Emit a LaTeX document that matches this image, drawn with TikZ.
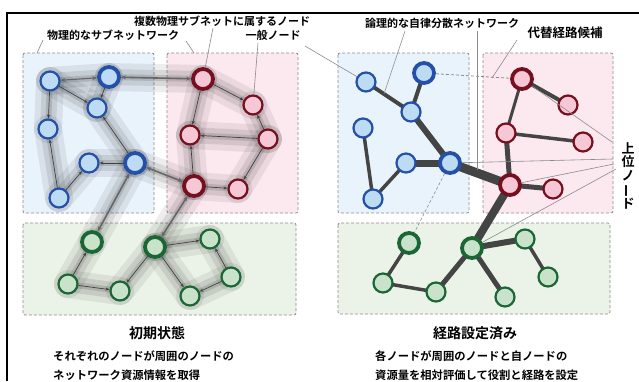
\documentclass[tikz,border=0pt]{standalone}
\usepackage{fontspec}
\setmainfont{Noto Sans CJK JP}[BoldFont={Noto Sans CJK JP Bold}]
\usetikzlibrary{arrows.meta,calc}
\pgfdeclarelayer{boxes}\pgfdeclarelayer{bg}
\pgfsetlayers{boxes,bg,main}
\definecolor{bfill}{HTML}{BDDCF4}
\definecolor{bline}{HTML}{2550A8}
\definecolor{rfill}{HTML}{F6C7D4}
\definecolor{rline}{HTML}{761020}
\definecolor{gfill}{HTML}{C9E3CA}
\definecolor{gline}{HTML}{1A6635}
\definecolor{bbox}{HTML}{E9F3FC}
\definecolor{rbox}{HTML}{FCE9EF}
\definecolor{gbox}{HTML}{EBF3E8}
\definecolor{edgec}{HTML}{444444}
\definecolor{callout}{HTML}{8A8A8A}
\begin{document}
\begin{tikzpicture}[x=1pt,y=-1pt,
 nd/.style={circle, inner sep=0pt, minimum size=19pt, line width=2.2pt},
 thk/.style={minimum size=20pt, line width=3.8pt},
 bn/.style={nd, fill=bfill, draw=bline},
 rn/.style={nd, fill=rfill, draw=rline},
 gn/.style={nd, fill=gfill, draw=gline},
 subnet/.style={draw=black!45, dash pattern=on 3pt off 2pt, line width=0.8pt, rounded corners=2pt},
 arr/.style={draw=black!75, line width=0.7pt, -{Stealth[length=4pt,width=3pt]}},
 dbl/.style={draw=black!60, line width=1.6pt, {Stealth[length=5pt,width=4pt]}-{Stealth[length=5pt,width=4pt]}},
 hA/.style={line width=28pt, draw=black, opacity=0.07, line cap=round},
 hB/.style={line width=16pt, draw=black, opacity=0.09, line cap=round},
 hC/.style={line width=6pt, draw=black, opacity=0.12, line cap=round},
 lk/.style={draw=edgec, line cap=round},
 co/.style={draw=callout, line width=0.6pt},
 lab/.style={font=\bfseries\fontsize{11}{13}\selectfont, inner sep=0pt},
 ttl/.style={font=\bfseries\fontsize{14}{16}\selectfont, inner sep=0pt},
 desc/.style={font=\bfseries\fontsize{11.3}{13}\selectfont, inner sep=0pt, anchor=west},
]
\useasboundingbox (0,0) rectangle (639,381);
% frame
\draw[line width=2.6pt] (7,381) -- (7,13) -- (639,13);

% ---------- left panel nodes ----------
\node[bn] (B1) at (50,81) {};
\node[bn,thk] (B2) at (109,77) {};
\node[bn] (B3) at (97,108) {};
\node[bn] (B4) at (48,129) {};
\node[bn] (B5) at (89,163) {};
\node[bn,thk] (B6) at (135,163) {};
\node[bn] (B7) at (59,198) {};
\node[rn,thk] (R1) at (203,79) {};
\node[rn] (R2) at (253,105) {};
\node[rn] (R3) at (190,135) {};
\node[rn] (R4) at (268,139) {};
\node[rn,thk] (R5) at (194,186) {};
\node[rn] (R6) at (238,189) {};
\node[gn,thk] (G1) at (92,242) {};
\node[gn,thk] (G2) at (155,247) {};
\node[gn] (G3) at (210,239) {};
\node[gn] (G4) at (68,284) {};
\node[gn] (G5) at (120,291) {};
\node[gn] (G6) at (231,277) {};
\node[gn] (G7) at (190,296) {};

% ---------- right panel nodes ----------
\node[bn] (b1) at (366,82) {};
\node[bn,thk] (b2) at (424,73) {};
\node[bn] (b3) at (411,112) {};
\node[bn] (b4) at (363,128) {};
\node[bn] (b5) at (406,163) {};
\node[bn,thk] (b6) at (450,163) {};
\node[bn] (b7) at (373,199) {};
\node[rn,thk] (r1) at (522,79) {};
\node[rn] (r2) at (568,105) {};
\node[rn] (r3) at (506,133) {};
\node[rn] (r4) at (583,142) {};
\node[rn,thk] (r5) at (510,185) {};
\node[rn] (r6) at (553,189) {};
\node[gn,thk] (g1) at (409,243) {};
\node[gn,thk] (g2) at (472,248) {};
\node[gn] (g3) at (525,239) {};
\node[gn] (g4) at (383,283) {};
\node[gn] (g5) at (436,292) {};
\node[gn] (g6) at (548,277) {};
\node[gn] (g7) at (505,297) {};

% ---------- subnet boxes ----------
\begin{pgfonlayer}{boxes}
\draw[subnet, fill=bbox] (23,53) rectangle (154,213);
\draw[subnet, fill=rbox] (167,53) rectangle (298,213);
\draw[subnet, fill=gbox] (23,223) rectangle (296,315);
\draw[subnet, fill=bbox] (338,53) rectangle (469,213);
\draw[subnet, fill=rbox] (483,53) rectangle (613,213);
\draw[subnet, fill=gbox] (338,223) rectangle (610,314);
\end{pgfonlayer}

% ---------- halos (left) ----------
\begin{pgfonlayer}{bg}
\foreach \a/\b in {B1/B2,B1/B4,B1/B3,B2/B3,B2/R1,R1/R2,R1/R3,R4/R2,R4/R3,R5/R3,R4/R6,R5/R6,B6/R5,B6/B3,B6/B5,B7/B5,B7/B4,B6/G1,R5/G2,G2/G3,G2/G5,G2/G7,G6/G7,G6/G3,G4/G5,G4/G1}{
  \draw[hA] (\a.center) -- (\b.center);
  \draw[hB] (\a.center) -- (\b.center);
  \draw[hC] (\a.center) -- (\b.center);
}
% ---------- right links ----------
\draw[lk, line width=4pt] (b1.center) -- (b3.center);
\draw[lk, line width=4pt] (b2.center) -- (b3.center);
\draw[lk, line width=6pt] (b3.center) -- (b6.center);
\draw[lk, line width=7pt] (b5.center) -- (b6.center);
\draw[lk, line width=3.5pt] (b4.center) -- (b7.center);
\draw[lk, line width=3.5pt] (b7.center) -- (b5.center);
\draw[lk, line width=9pt] (b6.center) -- (r5.center);
\draw[lk, line width=4pt] (r1.center) -- (r2.center);
\draw[lk, line width=3pt] (r1.center) -- (r3.center);
\draw[lk, line width=3.5pt] (r3.center) -- (r4.center);
\draw[lk, line width=5pt] (r3.center) -- (r5.center);
\draw[lk, line width=5pt] (r5.center) -- (r6.center);
\draw[lk, line width=8pt] (r5.center) -- (g2.center);
\draw[lk, line width=6pt] (g2.center) -- (g3.center);
\draw[lk, line width=5pt] (g2.center) -- (g5.center);
\draw[lk, line width=5pt] (g2.center) -- (g7.center);
\draw[lk, line width=3.5pt] (g4.center) -- (g5.center);
\draw[lk, line width=3.5pt] (g4.center) -- (g1.center);
\draw[lk, line width=3.5pt] (g3.center) -- (g6.center);
\end{pgfonlayer}

% ---------- left arrows ----------
\draw[dbl, line width=1.1pt] (B1) -- (B2);
\draw[dbl] (B2) -- (R1);
\draw[dbl] (B6) -- (R5);
\draw[dbl] (B6) -- (G1);
\draw[dbl] (R5) -- (G2);
\draw[arr] (B1) -- (B4);
\draw[arr] (B1) -- (B3);
\draw[arr] (B2) -- (B3);
\draw[arr] (R1) -- (R2);
\draw[arr] (R1) -- (R3);
\draw[arr] (R4) -- (R2);
\draw[arr] (R4) -- (R3);
\draw[arr] (R5) -- (R3);
\draw[arr] (R4) -- (R6);
\draw[arr] (R5) -- (R6);
\draw[arr] (B6) -- (B3);
\draw[arr] (B6) -- (B5);
\draw[arr] (B7) -- (B5);
\draw[arr] (B7) -- (B4);
\draw[arr] (G2) -- (G3);
\draw[arr] (G2) -- (G5);
\draw[arr] (G2) -- (G7);
\draw[arr] (G6) -- (G7);
\draw[arr] (G6) -- (G3);
\draw[arr] (G4) -- (G5);
\draw[arr] (G4) -- (G1);

% ---------- right dashed alternatives ----------
\draw[draw=black!45, dash pattern=on 3pt off 2pt, line width=0.8pt] (b2) -- (r1);
\draw[draw=black!40, dash pattern=on 3pt off 2pt, line width=0.7pt] (b6) -- (g1);

% ---------- labels ----------
\node[lab] (L1) at (222,21) {複数物理サブネットに属するノード};
\node[lab] (L2) at (113,35) {物理的なサブネットワーク};
\node[lab] (L3) at (273,35) {一般ノード};
\node[lab] (L4) at (442,23) {論理的な自律分散ネットワーク};
\node[lab, font=\bfseries\fontsize{12.5}{14}\selectfont] (L5) at (565,33) {代替経路候補};
\node[lab, font=\bfseries\fontsize{13}{13.3}\selectfont, align=center] (UP) at (628,176) {上\\位\\ノ\\\rotatebox[origin=c]{90}{ー}\\ド};

% callouts
\coordinate (c1a) at (43,40); \coordinate (c1b) at (37,53);
\coordinate (c2a) at (186,41); \coordinate (c2b) at (194,53);
\coordinate (c3a) at (213,28);
\coordinate (c4a) at (258,43);
\coordinate (c5a) at (305,46);
\coordinate (c6a) at (405,31);
\coordinate (c7a) at (477,31); \coordinate (c7b) at (477,170);
\coordinate (c8a) at (517,40); \coordinate (c8b) at (492,78);
\coordinate (u1) at (612,142); \coordinate (u2) at (613,159);
\coordinate (u3) at (614,164); \coordinate (u4) at (616,169);
\draw[co] (c1a) -- (c1b);
\draw[co] (c2a) -- (c2b);
\draw[co] (c3a) -- (R1);
\draw[co] (c4a) -- (R2);
\draw[co] (c5a) -- (b1);
\draw[co] (c6a) -- ($(b1)!0.4!(b3)$);
\draw[co] (c7a) -- (c7b);
\draw[co] (c8a) -- (c8b);
\draw[co] (r1) -- (u1);
\draw[co] (b6) -- (u2);
\draw[co] (r5) -- (u3);
\draw[co] (g2) -- (u4);

% titles and descriptions
\node[ttl] (T1) at (157,333) {初期状態};
\node[ttl] (T2) at (475,333) {経路設定済み};
\node[desc] (D1) at (53,356) {それぞれのノードが周囲のノードの};
\node[desc] (D2) at (53,375) {ネットワーク資源情報を取得};
\node[desc] (D3) at (375,356) {各ノードが周囲のノードと自ノードの};
\node[desc] (D4) at (375,375) {資源量を相対評価して役割と経路を設定};
\end{tikzpicture}
\end{document}
